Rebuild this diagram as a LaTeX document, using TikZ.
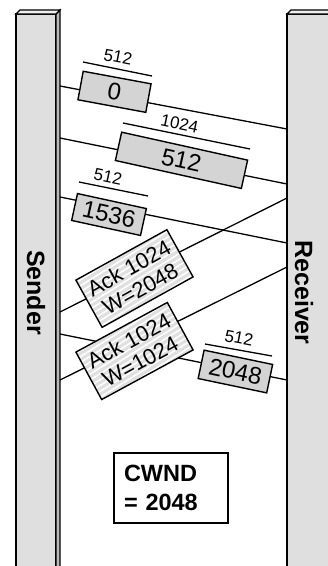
\documentclass[tikz,border=0pt]{standalone}
\usepackage{fontspec}
\setmainfont{Liberation Sans}
\usetikzlibrary{patterns.meta}

\begin{document}
\begin{tikzpicture}[
  x=1pt, y=-1pt,
  wire/.style={line width=1.3pt},
  lenbar/.style={line width=1.3pt},
  databox/.style={rectangle, draw, line width=1.4pt, fill=gray!34,
    minimum height=29pt, inner sep=0pt, font=\fontsize{24}{26}\selectfont},
  ackbox/.style={rectangle, draw, line width=1.4pt, preaction={fill=gray!24},
    pattern={Lines[angle=32, distance=5pt, line width=1.6pt]}, pattern color=white,
    minimum width=104pt, minimum height=54pt, inner sep=0pt, align=center,
    font=\fontsize{22}{23.5}\selectfont},
  lenlabel/.style={inner sep=0pt, font=\fontsize{17}{19}\selectfont},
  hostlabel/.style={rotate=-90, font=\bfseries\fontsize{25}{27}\selectfont},
  cwndbox/.style={rectangle, draw, line width=1.4pt, fill=white, align=left,
    text width=94pt, inner xsep=10pt, minimum height=70pt,
    font=\bfseries\fontsize{23.5}{28.4}\selectfont}
]
\useasboundingbox (0,0) rectangle (328,566);

% Sender bar
\fill[gray!25] (16,14) rectangle (56,566);
\draw[line width=1.4pt] (16,566) -- (16,14) -- (56,14) -- (56,566);
\filldraw[fill=gray!55, line width=1.2pt] (56,566) -- (56,14) -- (60,10) -- (60,566);
\filldraw[fill=gray!12, line width=1.2pt] (16,14) -- (20,10) -- (60,10) -- (56,14) -- cycle;

% Receiver bar
\fill[gray!25] (287,14) rectangle (330,566);
\draw[line width=1.4pt] (287,566) -- (287,14) -- (330,14);
\filldraw[fill=gray!12, line width=1.2pt] (287,14) -- (291,10) -- (330,10) -- (330,14) -- cycle;

\node[hostlabel] (sender) at (36,292.5) {Sender};
\node[hostlabel] (receiver) at (304,292.5) {Receiver};

% Ends of the wires on the bars
\coordinate (s0) at (60,86);   \coordinate (r0) at (287,129);
\coordinate (s1) at (60,138);  \coordinate (r1) at (287,184);
\coordinate (s2) at (60,197);  \coordinate (r2) at (287,243);
\coordinate (s3) at (60,334);  \coordinate (r3) at (287,380);
\coordinate (a1s) at (60,312); \coordinate (a1r) at (287,198);
\coordinate (a2s) at (60,380); \coordinate (a2r) at (287,267);

% Wires
\draw[wire] (s0) -- (r0);
\draw[wire] (s1) -- (r1);
\draw[wire] (s2) -- (r2);
\draw[wire] (s3) -- (r3);
\draw[wire] (a1s) -- (a1r);
\draw[wire] (a2s) -- (a2r);

% Data segments
\node[databox, rotate=-10.5, minimum width=69pt] (seg0) at (114.5,91.8) {0};
\node[databox, rotate=-12.5, minimum width=129pt] (seg512) at (181.5,160.3) {512};
\node[databox, rotate=-12.3, minimum width=70.5pt, minimum height=27.5pt] (seg1536) at (109,214.5) {1536};
\node[databox, rotate=-11.8, minimum width=70pt] (seg2048) at (235.4,371.5) {2048};

% Acks
\node[ackbox, rotate=29] (ack1) at (134.5,278.5) {Ack 1024\\W=2048};
\node[ackbox, rotate=28.5] (ack2) at (134.5,351) {Ack 1024\\W=1024};

% Segment lengths
\draw[lenbar] (83,62) -- (152,76);
\node[lenlabel, rotate=-11] (len0) at (118,57) {512};
\draw[lenbar] (123,123) -- (250,149);
\node[lenlabel, rotate=-12] (len512) at (179.5,123.5) {1024};
\draw[lenbar] (79,182) -- (148,196);
\node[lenlabel, rotate=-12] (len1536) at (108,176.5) {512};
\draw[lenbar] (205,344) -- (272,356);
\node[lenlabel, rotate=-11] (len2048) at (239,338) {512};

% Window
\node[cwndbox] (cwnd) at (171,488) {CWND\\= 2048};

\end{tikzpicture}
\end{document}
